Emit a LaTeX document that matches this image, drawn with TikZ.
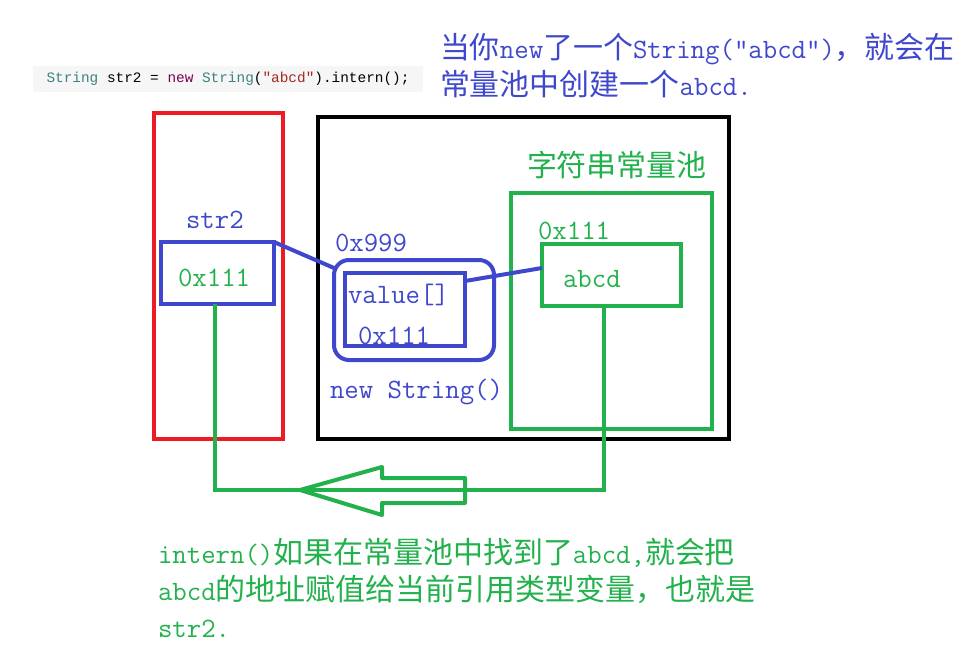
\documentclass[tikz,border=0pt]{standalone}
\usepackage{fontspec}
\newfontfamily\codefont{Liberation Mono}[Ligatures=NoCommon]
\newfontfamily\cjk{Noto Sans CJK SC}[Scale=1.07]
\definecolor{pred}{RGB}{237,28,36}
\definecolor{pblue}{RGB}{63,72,204}
\definecolor{pgreen}{RGB}{34,177,76}
\definecolor{codebg}{RGB}{246,246,246}
\definecolor{codeteal}{RGB}{60,130,130}
\definecolor{codepurple}{RGB}{127,0,85}
\definecolor{codestr}{RGB}{163,40,30}
\begin{document}
\begin{tikzpicture}[x=1pt,y=-1pt,
  box/.style={draw, line width=4pt, inner sep=0pt, outer sep=0pt},
  txt/.style={inner sep=0pt, outer sep=0pt, anchor=base west, font=\ttfamily\fontsize{28}{37}\selectfont},
  wire/.style={line width=4pt},
  ]
\useasboundingbox (0,0) rectangle (967,646);
% code line
\node (code) [fill=codebg, minimum width=390pt, minimum height=26pt, inner sep=0pt,
  font=\codefont\fontsize{14.4}{16}\selectfont] at (228,79)
  {\textcolor{codeteal}{String} str2 = \textcolor{codepurple}{new} \textcolor{codeteal}{String}(\textcolor{codestr}{\char"22 abcd\char"22}).intern();};
% top explanation
\node (t1) [txt, text=pblue] at (440,58) {{\cjk 当你}new{\cjk 了一个}String("abcd"){\cjk ，就会在}};
\node (t2) [txt, text=pblue] at (440,95) {{\cjk 常量池中创建一个}abcd.};
% frames
\node (stack) [box, draw=pred, minimum width=129pt, minimum height=326pt] at (218.5,276) {};
\node (heap) [box, draw=black, minimum width=411pt, minimum height=322pt] at (523.5,278) {};
\node (pool) [box, draw=pgreen, minimum width=201pt, minimum height=236pt] at (611.5,311) {};
\node (poollbl) [txt, text=pgreen] at (527,176) {\cjk 字符串常量池};
% str2
\node (sbox) [box, draw=pblue, minimum width=113pt, minimum height=62pt] at (217.5,273) {};
\node (slbl) [txt, text=pblue] at (186,228) {str2};
\node (sval) [txt, text=pgreen] at (178,286) {0x111};
% String object
\node (obj) [box, draw=pblue, rounded corners=15pt, minimum width=160pt, minimum height=100pt] at (414,310) {};
\node (inner) [box, draw=pblue, minimum width=120pt, minimum height=73pt] at (405,309.5) {};
\node (objaddr) [txt, text=pblue] at (335,251) {0x999};
\node (vlbl) [txt, text=pblue] at (348,303) {value[]};
\node (vval) [txt, text=pblue] at (358,344) {0x111};
\node (objlbl) [txt, text=pblue] at (330,398) {new String()};
% abcd
\node (abox) [box, draw=pgreen, minimum width=139pt, minimum height=62pt] at (611.5,275) {};
\node (aaddr) [txt, text=pgreen] at (538,239) {0x111};
\node (aval) [txt, text=pgreen] at (563,287) {abcd};
% connectors
\draw[wire, pblue] (sbox.north east) -- ([yshift=-8pt]obj.north west);
\draw[wire, pblue] ([yshift=-8pt]inner.north east) -- ([yshift=7pt]abox.west);
\coordinate (c1) at (215,490);
\coordinate (c2) at (604,490);
\draw[wire, pgreen] ([xshift=-2.5pt]sbox.south) -- ([xshift=-2.5pt]sbox.south |- c1) -- (c2) -- ([xshift=-7.5pt]abox.south);
% hollow arrow
\draw[wire, pgreen, line join=round] (300,490) -- (382,467) -- (382,478) -- (465,478) -- (465,503) -- (382,503) -- (382,515) -- cycle;
% bottom explanation
\node (b1) [txt, text=pgreen] at (158,563) {intern(){\cjk 如果在常量池中找到了}abcd,{\cjk 就会把}};
\node (b2) [txt, text=pgreen] at (158,600) {abcd{\cjk 的地址赋值给当前引用类型变量，也就是}};
\node (b3) [txt, text=pgreen] at (158,637) {str2.};
\end{tikzpicture}
\end{document}
